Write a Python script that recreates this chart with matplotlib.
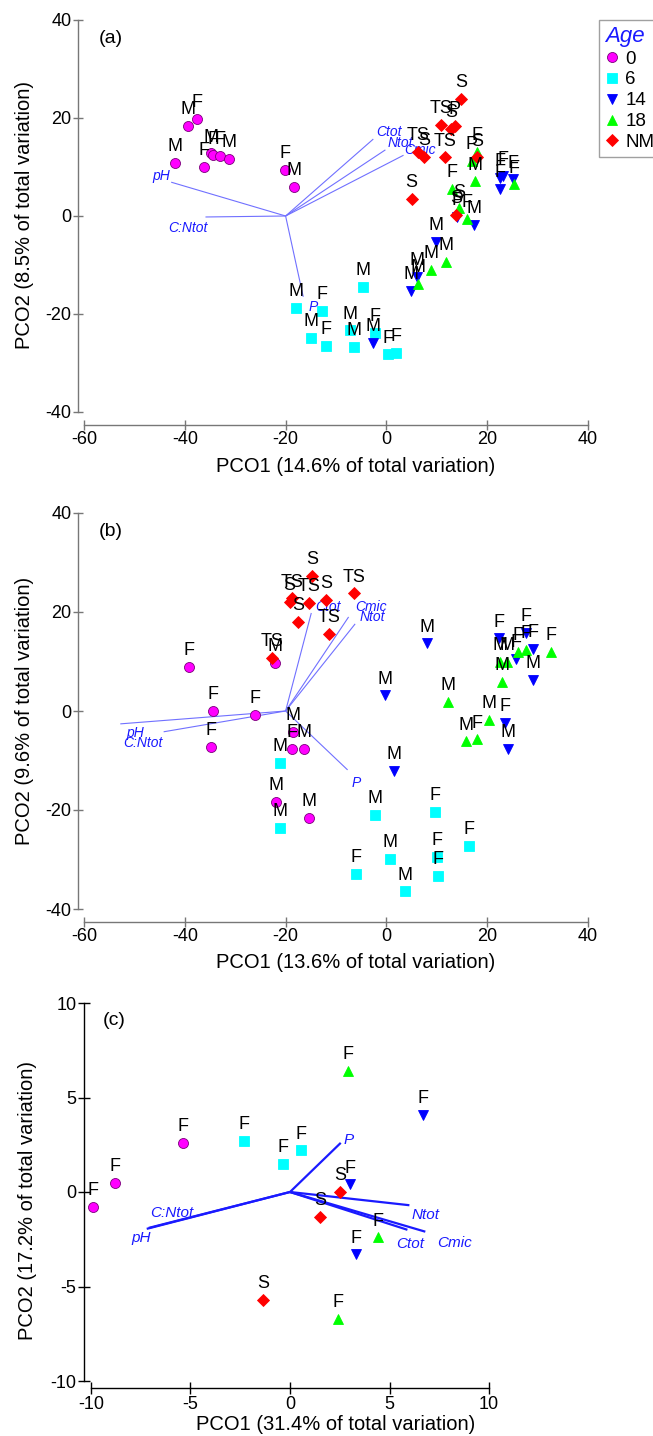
import matplotlib
matplotlib.use("Agg")
import matplotlib.pyplot as plt
from matplotlib.lines import Line2D

plt.rcParams['font.family'] = ['Liberation Sans', 'DejaVu Sans']
plt.rcParams['axes.unicode_minus'] = False

# ---------------- panel (a) ----------------
a_age0 = [(-41.9, 10.8, 'M'), (-39.3, 18.4, 'M'), (-37.5, 19.8, 'F'), (-36.1, 10.0, 'F'),
          (-34.9, 12.8, 'M'), (-34.5, 12.4, 'F'), (-33.1, 12.3, 'F'), (-31.2, 11.7, 'M'),
          (-20.2, 9.4, 'F'), (-18.3, 5.9, 'M')]
a_age6 = [(-17.9, -18.8, 'M'), (-12.7, -19.4, 'F'), (-4.6, -14.5, 'M'), (-14.9, -24.9, 'M'),
          (-11.9, -26.5, 'F'), (-7.3, -23.3, 'M'), (-6.5, -26.7, 'M'), (-2.2, -23.9, 'F'),
          (0.4, -28.2, 'F'), (2.0, -27.9, 'F')]
a_age14 = [(22.6, 7.8, 'F'), (23.2, 8.2, 'F'), (25.2, 7.5, 'F'), (22.6, 5.5, 'F'),
           (17.3, -1.8, 'M'), (9.9, -5.3, 'M'), (6.0, -12.4, 'M'), (4.8, -15.3, 'M'),
           (14.1, -0.2, 'P'), (-2.6, -25.9, 'M')]
a_age18 = [(18.0, 13.1, 'F'), (16.9, 11.2, 'P'), (17.5, 7.1, 'M'), (13.1, 5.5, 'F'),
           (25.4, 6.5, 'F'), (14.5, 1.6, 'S'), (15.9, -0.6, 'F'), (11.9, -9.4, 'M'),
           (8.9, -11.0, 'M'), (6.3, -13.9, 'M')]
a_nm = [(14.9, 23.9, 'S'), (10.9, 18.6, 'TS'), (12.9, 17.8, 'S'), (13.6, 18.4, 'P'),
        (6.3, 13.1, 'TS'), (7.5, 12.1, 'S'), (11.7, 12.0, 'TS'), (18.0, 12.0, 'S'),
        (5.0, 3.5, 'S'), (13.9, 0.2, 'S')]
a_vec_names = ['pH', 'C:Ntot', 'P', 'Ctot', 'Ntot', 'Cmic']
a_vec_x = [-42.7, -35.9, -16.5, -2.6, -0.2, 3.4]
a_vec_y = [6.9, -0.2, -16.5, 15.7, 13.5, 12.4]
a_origin = (-20, 0)

# ---------------- panel (b) ----------------
b_age0 = [(-39.1, 8.9, 'F'), (-22.2, 9.7, 'M'), (-34.5, 0.0, 'F'), (-26.0, -0.8, 'F'),
          (-34.9, -7.2, 'F'), (-18.5, -4.2, 'M'), (-18.8, -7.7, 'F'), (-16.3, -7.7, 'M'),
          (-22.0, -18.4, 'M'), (-15.3, -21.6, 'M')]
b_age6 = [(-21.2, -10.5, 'M'), (-21.2, -23.6, 'M'), (-2.2, -21.0, 'M'), (9.7, -20.4, 'F'),
          (16.3, -27.3, 'F'), (0.8, -29.9, 'M'), (10.1, -29.5, 'F'), (-6.0, -32.9, 'F'),
          (10.3, -33.3, 'F'), (3.6, -36.4, 'M')]
b_age14 = [(1.6, -12.1, 'M'), (-0.2, 3.2, 'M'), (8.1, 13.7, 'M'), (22.4, 14.7, 'F'),
           (27.6, 15.8, 'F'), (29.0, 12.5, 'F'), (25.8, 10.5, 'F'), (29.0, 6.3, 'M'),
           (23.6, -2.4, 'F'), (24.2, -7.7, 'M')]
b_age18 = [(32.7, 11.9, 'F'), (27.6, 12.3, 'F'), (26.2, 11.9, 'F'), (22.6, 9.9, 'M'),
           (24.0, 9.9, 'M'), (23.0, 5.9, 'M'), (20.4, -1.8, 'M'), (12.3, 1.8, 'M'),
           (15.7, -6.1, 'M'), (18.0, -5.7, 'F')]
b_nm = [(-14.7, 27.3, 'S'), (-18.8, 22.8, 'TS'), (-19.2, 22.0, 'S'), (-15.3, 21.8, 'TS'),
        (-11.9, 22.4, 'S'), (-17.5, 18.0, 'S'), (-11.3, 15.6, 'TS'), (-6.5, 23.8, 'TS'),
        (-22.6, 10.7, 'TS')]
b_vec_names = ['Ctot', 'Cmic', 'Ntot', 'pH', 'C:Ntot', 'P']
b_vec_x = [-14.9, -7.5, -6.2, -52.8, -44.2, -7.7]
b_vec_y = [19.8, 19.0, 17.6, -2.6, -4.2, -11.9]
b_origin = (-20, 0)

# ---------------- panel (c) ----------------
c_age0 = [(-5.4, 2.6, 'F'), (-8.8, 0.5, 'F'), (-9.9, -0.8, 'F')]
c_age6 = [(-2.3, 2.7, 'F'), (-0.35, 1.5, 'F'), (0.55, 2.2, 'F')]
c_age14 = [(3.0, 0.4, 'F'), (3.3, -3.3, 'F'), (6.7, 4.1, 'F')]
c_age18 = [(2.9, 6.4, 'F'), (4.4, -2.4, 'F'), (2.4, -6.7, 'F')]
c_nm = [(2.5, 0.0, 'S'), (1.5, -1.3, 'S'), (-1.35, -5.7, 'S')]
c_vec_names = ['P', 'Ntot', 'Ctot', 'Cmic', 'C:Ntot', 'pH']
c_vec_x = [2.55, 6.0, 5.9, 6.8, -7.1, -7.2]
c_vec_y = [2.6, -0.7, -2.0, -2.1, -1.9, -1.95]
c_origin = (0, 0)

ages = ['0', '6', '14', '18', 'NM']
age_marker = {'0': 'o', '6': 's', '14': 'v', '18': '^', 'NM': 'D'}
age_color = {'0': '#ff00ff', '6': '#00ffff', '14': '#0000ff', '18': '#00ff00', 'NM': '#ff0000'}
age_edge = {'0': '#7a007a', '6': '#00ffff', '14': '#0000ff', '18': '#00ff00', 'NM': '#ff0000'}
age_size = {'0': 7.2, '6': 6.6, '14': 7.8, '18': 7.8, 'NM': 6.4}

W, H = 653, 1436
fig = plt.figure(figsize=(W / 100, H / 100), dpi=100)
PT = 0.72  # points per pixel


def px_axes(l, r, t, b):
    return fig.add_axes([l / W, 1 - b / H, (r - l) / W, (b - t) / H])


def draw_panel(ax, groups, names, vx, vy, origin, lab_off, vec_color, vec_lw, vec_fs):
    # vectors
    for n, x, y in zip(names, vx, vy):
        ax.plot([origin[0], x], [origin[1], y], color=vec_color, lw=vec_lw,
                solid_capstyle='butt', zorder=1, clip_on=False)
        dx, dy = lab_off[n]
        ax.annotate(n, (x, y), xytext=(dx * PT, -dy * PT), textcoords='offset points',
                    ha='center', va='center', fontsize=vec_fs, style='italic',
                    color='#1a1aff', zorder=1, annotation_clip=False)
    # points
    for age, pts in zip(ages, groups):
        for x, y, lab in pts:
            ax.plot(x, y, marker=age_marker[age], ms=age_size[age], color=age_color[age],
                    mec=age_edge[age], mew=0.6, ls='none', zorder=3, clip_on=False)
            ax.annotate(lab, (x, y), xytext=(0, 5.5), textcoords='offset points',
                        ha='center', va='bottom', fontsize=13, color='black',
                        zorder=4, annotation_clip=False)


def style_axes(ax, xlim, ylim, xticks, yticks, off_l, off_b, col, tlen):
    ax.set_xlim(*xlim)
    ax.set_ylim(*ylim)
    ax.set_xticks(xticks)
    ax.set_yticks(yticks)
    for s in ['top', 'right']:
        ax.spines[s].set_visible(False)
    ax.spines['left'].set_position(('outward', off_l * PT))
    ax.spines['bottom'].set_position(('outward', off_b * PT))
    for s in ['left', 'bottom']:
        ax.spines[s].set_color(col)
        ax.spines[s].set_linewidth(1.0)
    ax.tick_params(direction='inout', length=tlen, width=1.0, color=col,
                   labelsize=13, pad=1)
    ax.patch.set_alpha(0)


# (a)
ax_a = px_axes(84, 588, 20, 412)
style_axes(ax_a, (-60, 40), (-40, 40), [-60, -40, -20, 0, 20, 40], [-40, -20, 0, 20, 40],
           6, 13, '#777777', 7)
a_off = {'pH': (-10, -6), 'C:Ntot': (-18, 11), 'P': (10, 10), 'Ctot': (16, -7),
         'Ntot': (15, -7), 'Cmic': (17, -5)}
draw_panel(ax_a, [a_age0, a_age6, a_age14, a_age18, a_nm], a_vec_names, a_vec_x, a_vec_y,
           a_origin, a_off, '#7070ff', 0.8, 10)
ax_a.text(0.03, 0.975, '(a)', transform=ax_a.transAxes, fontsize=14, va='top')

# (b)
ax_b = px_axes(84, 588, 513, 909)
style_axes(ax_b, (-60, 40), (-40, 40), [-60, -40, -20, 0, 20, 40], [-40, -20, 0, 20, 40],
           6, 13, '#777777', 7)
b_off = {'Ctot': (17, -6), 'Cmic': (22, -10), 'Ntot': (17, -7), 'pH': (15, 9),
         'C:Ntot': (-21, 11), 'P': (9, 13)}
draw_panel(ax_b, [b_age0, b_age6, b_age14, b_age18, b_nm], b_vec_names, b_vec_x, b_vec_y,
           b_origin, b_off, '#7070ff', 0.8, 10)
ax_b.text(0.03, 0.975, '(b)', transform=ax_b.transAxes, fontsize=14, va='top')

# (c)
ax_c = px_axes(91, 489, 1003, 1381)
style_axes(ax_c, (-10, 10), (-10, 10), [-10, -5, 0, 5, 10], [-10, -5, 0, 5, 10],
           7, 7, 'black', 9)
c_off = {'P': (8, -3), 'Ntot': (16, 10), 'Ctot': (3, 14), 'Cmic': (29, 11),
         'C:Ntot': (23, -15), 'pH': (-6, 9)}
draw_panel(ax_c, [c_age0, c_age6, c_age14, c_age18, c_nm], c_vec_names, c_vec_x, c_vec_y,
           c_origin, c_off, '#1a1aff', 1.6, 11)
ax_c.text(0.03, 0.975, '(c)', transform=ax_c.transAxes, fontsize=14, va='top')

# axis titles
fig.text(356 / W, 1 - 466 / H, 'PCO1 (14.6% of total variation)', ha='center', va='center', fontsize=14.5)
fig.text(25 / W, 1 - 215 / H, 'PCO2 (8.5% of total variation)', ha='center', va='center',
         fontsize=14.5, rotation=90)
fig.text(356 / W, 1 - 963 / H, 'PCO1 (13.6% of total variation)', ha='center', va='center', fontsize=14.5)
fig.text(25 / W, 1 - 711 / H, 'PCO2 (9.6% of total variation)', ha='center', va='center',
         fontsize=14.5, rotation=90)
fig.text(336 / W, 1 - 1425 / H, 'PCO1 (31.4% of total variation)', ha='center', va='center', fontsize=14.5)
fig.text(28 / W, 1 - 1200 / H, 'PCO2 (17.2% of total variation)', ha='center', va='center',
         fontsize=14.5, rotation=90)

# legend
handles = [Line2D([], [], marker=age_marker[a], ms=age_size[a], color=age_color[a],
                  mec=age_edge[a], mew=0.6, ls='none', label=a) for a in ages]
leg = fig.legend(handles=handles, loc='upper left', bbox_to_anchor=(599 / W, 1 - 20 / H),
                 title='Age', fontsize=13.5, frameon=True, fancybox=False, edgecolor='#888888',
                 handlelength=0.8, handletextpad=0.3, borderpad=0.3, labelspacing=0.2,
                 borderaxespad=0, alignment='left')
leg.get_title().set_fontsize(16)
leg.get_title().set_style('italic')
leg.get_title().set_color('#1a1aff')
leg.get_frame().set_linewidth(1.0)

fig.savefig('out.png', dpi=100)
